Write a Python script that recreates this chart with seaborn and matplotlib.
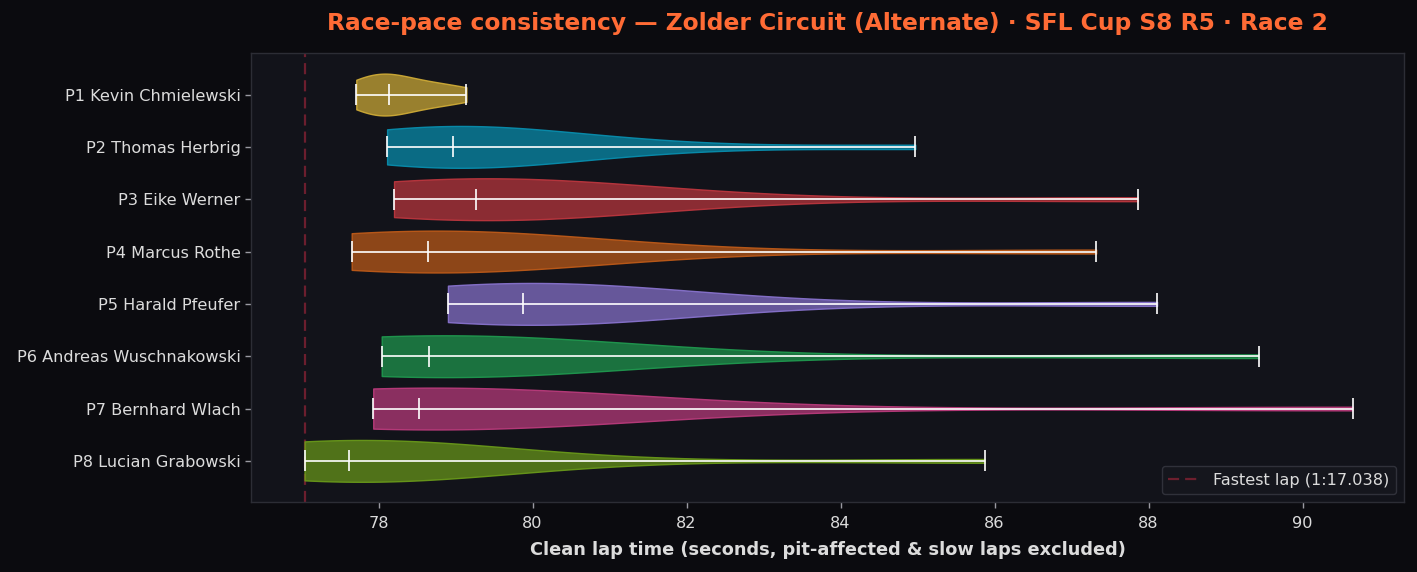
import numpy as np
import pandas as pd
import matplotlib
matplotlib.use("Agg")
import matplotlib.pyplot as plt
import seaborn as sns

# Drivers in finishing order
drivers = [
    "P1 Kevin Chmielewski",
    "P2 Thomas Herbrig",
    "P3 Eike Werner",
    "P4 Marcus Rothe",
    "P5 Harald Pfeufer",
    "P6 Andreas Wuschnakowski",
    "P7 Bernhard Wlach",
    "P8 Lucian Grabowski",
]

# Clean lap times (seconds), estimated from the chart
laps_p1 = [77.71, 77.82, 77.90, 77.96, 78.02, 78.08, 78.13, 78.25, 78.40,
           78.58, 78.75, 78.95, 79.14]
laps_p2 = [78.11, 78.35, 78.55, 78.70, 78.82, 78.90, 78.97, 79.20, 79.50,
           79.90, 80.50, 81.40, 84.97]
laps_p3 = [78.20, 78.50, 78.75, 78.95, 79.08, 79.18, 79.27, 79.50, 79.85,
           80.30, 80.90, 81.80, 87.86]
laps_p4 = [77.65, 77.90, 78.10, 78.28, 78.42, 78.54, 78.64, 78.85, 79.15,
           79.55, 80.10, 81.00, 87.32]
laps_p5 = [78.90, 79.15, 79.35, 79.52, 79.65, 79.77, 79.87, 80.10, 80.40,
           80.80, 81.40, 82.30, 88.11]
laps_p6 = [78.04, 78.20, 78.32, 78.42, 78.50, 78.58, 78.65, 78.85, 79.10,
           79.45, 79.95, 80.80, 89.43]
laps_p7 = [77.93, 78.05, 78.16, 78.26, 78.35, 78.44, 78.52, 78.70, 78.95,
           79.30, 79.80, 80.70, 90.65]
laps_p8 = [77.038, 77.15, 77.26, 77.36, 77.45, 77.53, 77.61, 77.80, 78.05,
           78.40, 78.90, 79.70, 85.87]

all_laps = [laps_p1, laps_p2, laps_p3, laps_p4, laps_p5, laps_p6, laps_p7, laps_p8]

colors = ["#d4af37", "#0891b2", "#c0373f", "#c25c18",
          "#8b75d2", "#209c50", "#be3c7e", "#6b9c19"]

fastest_lap = 77.038

title = "Race-pace consistency \u2014 Zolder Circuit (Alternate) \u00b7 SFL Cup S8 R5 \u00b7 Race 2"
xlabel = "Clean lap time (seconds, pit-affected & slow laps excluded)"

# long-form table for seaborn
df = pd.DataFrame({
    "driver": [d for d, laps in zip(drivers, all_laps) for _ in laps],
    "lap": [t for laps in all_laps for t in laps],
})

sns.set_style("dark")
plt.rcParams["font.family"] = ["DejaVu Sans"]

fig_bg = "#0b0b0f"
ax_bg = "#12131a"
text_col = "#dcdcdc"

fig = plt.figure(figsize=(14.17, 5.72), dpi=100, facecolor=fig_bg)
ax = fig.add_axes([0.177, 0.122, 0.814, 0.785])
ax.set_facecolor(ax_bg)

# fastest lap reference (drawn under the violins)
mins, sec = divmod(fastest_lap, 60)
ax.axvline(fastest_lap, color="#8b2335", lw=1.6, ls=(0, (5, 2.7)), alpha=0.75, zorder=1,
           label=f"Fastest lap ({int(mins)}:{sec:06.3f})")

sns.violinplot(data=df, x="lap", y="driver", hue="driver", order=drivers,
               hue_order=drivers, palette=colors, orient="h", cut=0,
               density_norm="width", inner=None, width=0.8, saturation=1,
               bw_adjust=1.3, linewidth=1, legend=False, ax=ax, zorder=2)

for coll, c in zip(ax.collections, colors):
    coll.set_facecolor(matplotlib.colors.to_rgba(c, 0.7))
    coll.set_edgecolor(matplotlib.colors.to_rgba(c, 0.9))
    coll.set_linewidth(1.0)

# min / median / max markers like matplotlib's violinplot
for i, laps in enumerate(all_laps):
    lo, med, hi = np.min(laps), np.median(laps), np.max(laps)
    ax.hlines(i, lo, hi, color="white", lw=1.2, zorder=3)
    ax.vlines([lo, med, hi], i - 0.2, i + 0.2, color="white", lw=1.2, zorder=3)

ax.set_xlim(76.34, 91.32)
ax.set_ylim(7.79, -0.79)
ax.set_ylabel("")
ax.set_xlabel(xlabel, color=text_col, fontsize=12.8, fontweight="bold", labelpad=7)
ax.set_title(title, color="#ff6b35", fontsize=16.8, fontweight="bold", pad=17)

ax.tick_params(axis="both", colors="#9a9aa2", labelcolor=text_col, labelsize=11.6,
               length=4, width=1, bottom=True, left=True)
ax.tick_params(axis="x", pad=6)
for s in ax.spines.values():
    s.set_color("#2c2d35")
    s.set_linewidth(1)
ax.grid(False)

leg = ax.legend(loc="lower right", fontsize=11.6, facecolor="#15161d",
                edgecolor="#30313a", labelcolor=text_col, framealpha=1)

fig.savefig("out.png", dpi=100, facecolor=fig_bg)
